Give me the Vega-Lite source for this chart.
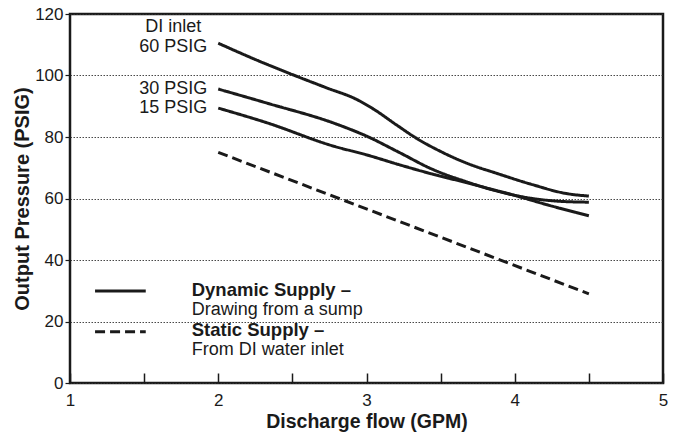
{
  "$schema": "https://vega.github.io/schema/vega-lite/v6.json",
  "width": 593,
  "height": 369,
  "autosize": "none",
  "padding": {"left": 70, "top": 14, "right": 18, "bottom": 50},
  "background": "white",
  "config": {
    "view": {"stroke": "#1a1a1a", "strokeWidth": 2.5},
    "font": "Liberation Sans",
    "text": {"font": "Liberation Sans", "color": "#1a1a1a"}
  },
  "datasets": {
    "curves": [
      {"flow": 2.0, "pressure": 110.5, "series": "60 PSIG", "supply": "Dynamic"},
      {"flow": 2.25, "pressure": 105.2, "series": "60 PSIG", "supply": "Dynamic"},
      {"flow": 2.5, "pressure": 100.3, "series": "60 PSIG", "supply": "Dynamic"},
      {"flow": 2.73, "pressure": 96.0, "series": "60 PSIG", "supply": "Dynamic"},
      {"flow": 2.93, "pressure": 92.3, "series": "60 PSIG", "supply": "Dynamic"},
      {"flow": 3.05, "pressure": 89.0, "series": "60 PSIG", "supply": "Dynamic"},
      {"flow": 3.2, "pressure": 84.0, "series": "60 PSIG", "supply": "Dynamic"},
      {"flow": 3.34, "pressure": 79.5, "series": "60 PSIG", "supply": "Dynamic"},
      {"flow": 3.5, "pressure": 75.3, "series": "60 PSIG", "supply": "Dynamic"},
      {"flow": 3.67, "pressure": 71.6, "series": "60 PSIG", "supply": "Dynamic"},
      {"flow": 3.89, "pressure": 68.0, "series": "60 PSIG", "supply": "Dynamic"},
      {"flow": 4.12, "pressure": 64.5, "series": "60 PSIG", "supply": "Dynamic"},
      {"flow": 4.35, "pressure": 61.6, "series": "60 PSIG", "supply": "Dynamic"},
      {"flow": 4.5, "pressure": 60.8, "series": "60 PSIG", "supply": "Dynamic"},
      {"flow": 2.0, "pressure": 95.6, "series": "30 PSIG", "supply": "Dynamic"},
      {"flow": 2.33, "pressure": 91.0, "series": "30 PSIG", "supply": "Dynamic"},
      {"flow": 2.78, "pressure": 84.5, "series": "30 PSIG", "supply": "Dynamic"},
      {"flow": 3.0, "pressure": 80.3, "series": "30 PSIG", "supply": "Dynamic"},
      {"flow": 3.22, "pressure": 75.0, "series": "30 PSIG", "supply": "Dynamic"},
      {"flow": 3.44, "pressure": 69.6, "series": "30 PSIG", "supply": "Dynamic"},
      {"flow": 3.67, "pressure": 65.5, "series": "30 PSIG", "supply": "Dynamic"},
      {"flow": 3.89, "pressure": 62.3, "series": "30 PSIG", "supply": "Dynamic"},
      {"flow": 4.12, "pressure": 60.0, "series": "30 PSIG", "supply": "Dynamic"},
      {"flow": 4.3, "pressure": 59.1, "series": "30 PSIG", "supply": "Dynamic"},
      {"flow": 4.5, "pressure": 58.8, "series": "30 PSIG", "supply": "Dynamic"},
      {"flow": 2.0, "pressure": 89.4, "series": "15 PSIG", "supply": "Dynamic"},
      {"flow": 2.33, "pressure": 84.6, "series": "15 PSIG", "supply": "Dynamic"},
      {"flow": 2.78, "pressure": 77.0, "series": "15 PSIG", "supply": "Dynamic"},
      {"flow": 3.0, "pressure": 74.2, "series": "15 PSIG", "supply": "Dynamic"},
      {"flow": 3.22, "pressure": 71.0, "series": "15 PSIG", "supply": "Dynamic"},
      {"flow": 3.44, "pressure": 68.0, "series": "15 PSIG", "supply": "Dynamic"},
      {"flow": 3.67, "pressure": 65.2, "series": "15 PSIG", "supply": "Dynamic"},
      {"flow": 3.89, "pressure": 62.4, "series": "15 PSIG", "supply": "Dynamic"},
      {"flow": 4.0, "pressure": 61.0, "series": "15 PSIG", "supply": "Dynamic"},
      {"flow": 4.23, "pressure": 57.8, "series": "15 PSIG", "supply": "Dynamic"},
      {"flow": 4.5, "pressure": 54.4, "series": "15 PSIG", "supply": "Dynamic"},
      {"flow": 2.0, "pressure": 75.0, "series": "Static", "supply": "Static"},
      {"flow": 4.5, "pressure": 29.0, "series": "Static", "supply": "Static"}
    ],
    "keys": [
      {"flow": 1.169, "flow2": 1.511, "pressure": 29.9, "supply": "Dynamic"},
      {"flow": 1.169, "flow2": 1.511, "pressure": 16.7, "supply": "Static"}
    ],
    "curveLabels": [
      {"flow": 2.0, "pressure": 109.4, "label": "60 PSIG"},
      {"flow": 2.0, "pressure": 95.5, "label": "30 PSIG"},
      {"flow": 2.0, "pressure": 89.3, "label": "15 PSIG"}
    ],
    "topLabel": [
      {"flow": 2.0, "pressure": 115.7, "label": "DI inlet"}
    ],
    "keyTitles": [
      {"flow": 1.821, "pressure": 30.2, "label": "Dynamic Supply –"},
      {"flow": 1.821, "pressure": 17.2, "label": "Static Supply –"}
    ],
    "keySubtitles": [
      {"flow": 1.821, "pressure": 23.6, "label": "Drawing from a sump"},
      {"flow": 1.821, "pressure": 10.6, "label": "From DI water inlet"}
    ]
  },
  "encoding": {
    "x": {
      "field": "flow", "type": "quantitative",
      "scale": {"domain": [1, 5], "nice": false, "zero": false},
      "axis": {
        "title": "Discharge flow (GPM)",
        "values": [1, 1.5, 2, 2.5, 3, 3.5, 4, 4.5, 5],
        "labelExpr": "datum.value % 1 === 0 ? format(datum.value, 'd') : ''",
        "tickSize": -10,
        "tickColor": "#1a1a1a",
        "tickWidth": 1.5,
        "domain": false,
        "grid": false,
        "labelFlush": false,
        "labelFontSize": 17,
        "labelColor": "#1a1a1a",
        "labelPadding": 19,
        "titleFontSize": 19.5,
        "titleFontWeight": "bold",
        "titleColor": "#1a1a1a",
        "titlePadding": 4,
        "encode": {
          "ticks": {"update": {"y2": {"signal": "datum.value % 1 === 0 ? -10 : -6"}}}
        }
      }
    },
    "y": {
      "field": "pressure", "type": "quantitative",
      "scale": {"domain": [0, 120], "nice": false},
      "axis": {
        "title": "Output Pressure (PSIG)",
        "values": [0, 20, 40, 60, 80, 100, 120],
        "grid": true,
        "gridDash": [1.5, 1.5],
        "gridColor": "#333",
        "gridWidth": 0.9,
        "tickSize": 5,
        "tickColor": "#1a1a1a",
        "tickWidth": 1.2,
        "domain": false,
        "labelFontSize": 17,
        "labelColor": "#1a1a1a",
        "labelPadding": 2,
        "titleFontSize": 20,
        "titleFontWeight": "bold",
        "titleColor": "#1a1a1a",
        "titlePadding": 2
      }
    }
  },
  "layer": [
    {
      "data": {"name": "curves"},
      "mark": {"type": "line", "strokeWidth": 3, "color": "#1a1a1a", "interpolate": "monotone"},
      "encoding": {
        "detail": {"field": "series"},
        "strokeDash": {
          "field": "supply", "type": "nominal",
          "scale": {"domain": ["Dynamic", "Static"], "range": [[1, 0], [10, 5]]},
          "legend": null
        }
      }
    },
    {
      "data": {"name": "keys"},
      "mark": {"type": "rule", "strokeWidth": 3, "color": "#1a1a1a"},
      "encoding": {
        "x2": {"field": "flow2"},
        "strokeDash": {"field": "supply", "type": "nominal", "legend": null}
      }
    },
    {
      "data": {"name": "curveLabels"},
      "mark": {"type": "text", "align": "right", "baseline": "middle", "dx": -11, "fontSize": 18},
      "encoding": {"text": {"field": "label"}}
    },
    {
      "data": {"name": "topLabel"},
      "mark": {"type": "text", "align": "center", "baseline": "middle", "dx": -45, "fontSize": 18},
      "encoding": {"text": {"field": "label"}}
    },
    {
      "data": {"name": "keyTitles"},
      "mark": {"type": "text", "align": "left", "baseline": "middle", "fontSize": 18.5, "fontWeight": "bold"},
      "encoding": {"text": {"field": "label"}}
    },
    {
      "data": {"name": "keySubtitles"},
      "mark": {"type": "text", "align": "left", "baseline": "middle", "fontSize": 18},
      "encoding": {"text": {"field": "label"}}
    }
  ]
}
